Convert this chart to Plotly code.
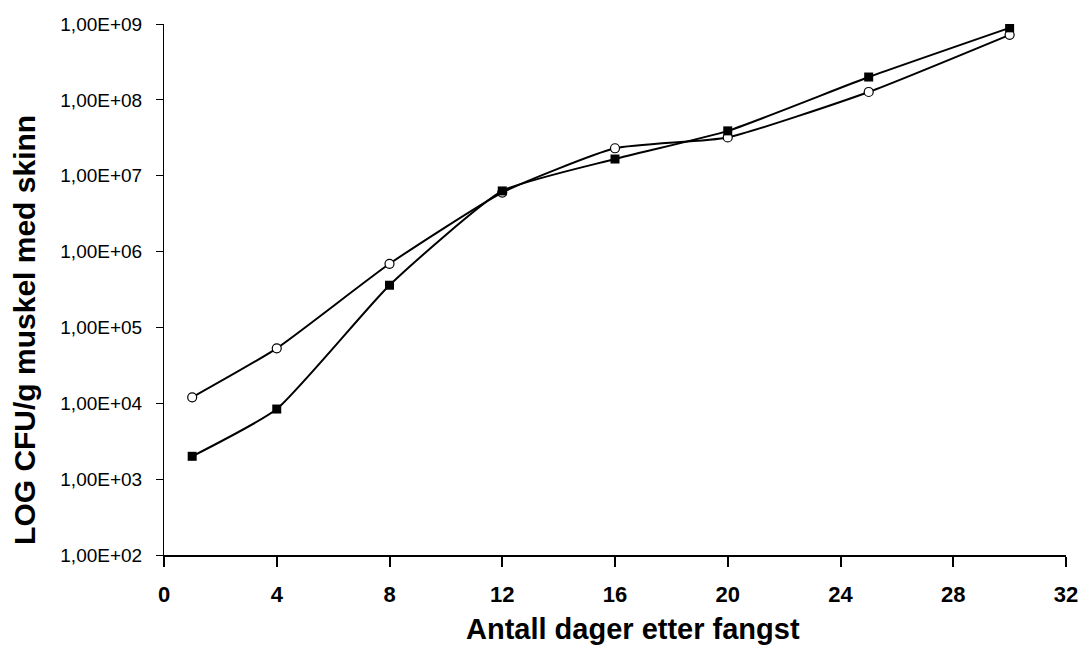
import plotly.graph_objects as go

days = [1, 4, 8, 12, 16, 20, 25, 30]
series_square = [2.0e3, 8.4e3, 3.6e5, 6.3e6, 1.66e7, 3.9e7, 2.0e8, 8.9e8]
series_circle = [1.2e4, 5.3e4, 6.9e5, 6.0e6, 2.3e7, 3.2e7, 1.27e8, 7.2e8]

y_tickvals = [1e2, 1e3, 1e4, 1e5, 1e6, 1e7, 1e8, 1e9]
y_ticktext = ["1,00E+02", "1,00E+03", "1,00E+04", "1,00E+05",
              "1,00E+06", "1,00E+07", "1,00E+08", "1,00E+09"]
x_tickvals = [0, 4, 8, 12, 16, 20, 24, 28, 32]

x_title = "Antall dager etter fangst"
y_title = "LOG CFU/g muskel med skinn"

FONT = "Arial, Liberation Sans, sans-serif"

fig = go.Figure()
fig.add_trace(go.Scatter(
    x=days, y=series_circle, mode="lines+markers",
    line=dict(color="black", width=2, shape="spline", smoothing=0.5),
    marker=dict(symbol="circle", size=9, color="white",
                line=dict(color="black", width=1.2)),
    showlegend=False))
fig.add_trace(go.Scatter(
    x=days, y=series_square, mode="lines+markers",
    line=dict(color="black", width=2, shape="spline", smoothing=0.5),
    marker=dict(symbol="square", size=9, color="black",
                line=dict(color="black", width=0)),
    showlegend=False))

fig.update_layout(
    width=1082, height=646,
    margin=dict(l=164, r=16, t=24, b=91),
    paper_bgcolor="white", plot_bgcolor="white",
    font=dict(family=FONT, color="black"),
    xaxis=dict(
        range=[0, 32], tickmode="array", tickvals=x_tickvals,
        automargin=False,
        showgrid=False, zeroline=False, showline=True,
        linecolor="black", linewidth=2,
        ticks="outside", ticklen=10, tickwidth=2, tickcolor="black",
        ticklabelstandoff=9,
        tickfont=dict(family=FONT, size=22, color="black", weight="bold"),
    ),
    yaxis=dict(
        type="log", range=[2, 9], tickmode="array",
        tickvals=y_tickvals, ticktext=y_ticktext,
        automargin=False,
        showgrid=False, zeroline=False, showline=True,
        linecolor="black", linewidth=1,
        ticks="outside", ticklen=7, tickwidth=1, tickcolor="black",
        ticklabelstandoff=10,
        tickfont=dict(family=FONT, size=19, color="black"),
    ),
    annotations=[
        dict(text=x_title, xref="paper", yref="paper", x=0.52, y=-0.14,
             xanchor="center", yanchor="middle", showarrow=False,
             font=dict(family=FONT, size=29, color="black", weight="bold")),
        dict(text=y_title, xref="paper", yref="paper", x=-0.154, y=0.424,
             xanchor="center", yanchor="middle", showarrow=False,
             textangle=-90,
             font=dict(family=FONT, size=30, color="black", weight="bold")),
    ],
)

fig.write_html("out.html")
